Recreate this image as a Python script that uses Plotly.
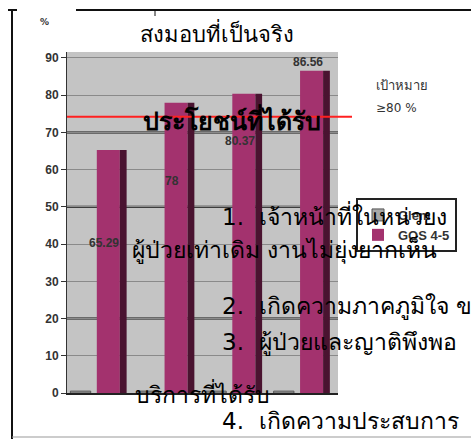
import plotly.graph_objects as go

categories = ["1", "2", "3", "4"]
glem_values = [0.5, 0.5, 0.5, 0.5]
gos45_values = [65.29, 78, 80.37, 86.56]
series_names = ["Glem", "GOS 4-5"]
y_ticks = [0, 10, 20, 30, 40, 50, 60, 70, 80, 90]
target_value = 74.2
dark_grid = [70, 50, 20]
label_y = [40.3, 57.0, 67.8, 89.0]

W, H = 471, 439
L, R, T, B = 67, 338, 52, 393

def px(x):
    return (x - L) / (R - L)

def py(y):
    return (B - y) / (B - T)

xs = list(range(len(categories)))

fig = go.Figure()
fig.add_trace(go.Bar(x=xs, y=glem_values, name=series_names[0], offset=-0.45, width=0.3,
                     marker=dict(color="#A8A8A8", line=dict(color="#555555", width=1)), showlegend=True))
fig.add_trace(go.Bar(x=xs, y=gos45_values, name=series_names[1], offset=-0.06, width=0.34,
                     marker=dict(color="#A3326E", line=dict(width=0)), showlegend=True))
fig.add_trace(go.Bar(x=xs, y=gos45_values, name=series_names[1], offset=0.28, width=0.1,
                     marker=dict(color="#4A1330", line=dict(width=0)), showlegend=False,
                     hoverinfo="skip"))

shapes = []
for g in dark_grid:
    shapes.append(dict(type="line", xref="paper", yref="y", x0=0, x1=1, y0=g, y1=g,
                       line=dict(color="#111111", width=2), layer="below"))
shapes.append(dict(type="line", xref="paper", yref="y", x0=0, x1=px(352), y0=target_value,
                   y1=target_value, line=dict(color="#FF2020", width=2)))
shapes.append(dict(type="line", xref="paper", yref="paper", x0=px(12), x1=px(12), y0=py(439), y1=py(10),
                   line=dict(color="#111111", width=2)))
shapes.append(dict(type="line", xref="paper", yref="paper", x0=px(8), x1=px(17), y0=py(10), y1=py(10),
                   line=dict(color="#111111", width=2)))
shapes.append(dict(type="line", xref="paper", yref="paper", x0=px(76), x1=px(471), y0=py(10), y1=py(10),
                   line=dict(color="#111111", width=2)))
shapes.append(dict(type="line", xref="paper", yref="paper", x0=px(155), x1=px(155), y0=py(10), y1=py(16),
                   line=dict(color="#111111", width=1)))
shapes.append(dict(type="line", xref="paper", yref="paper", x0=px(12), x1=px(471), y0=py(437), y1=py(437),
                   line=dict(color="#999999", width=1)))

ann = []
for i, v in enumerate(gos45_values):
    ann.append(dict(x=xs[i] + 0.05, y=label_y[i], xref="x", yref="y", text=f"<b>{v:g}</b>", showarrow=False,
                    font=dict(family="Liberation Sans, Arial", size=12, color="#333333"),
                    xanchor="center", yanchor="middle"))

thai_font = "Tahoma, DejaVu Sans, Noto Sans, sans-serif"

def txt(x, y, s, size=21, bold=False, anchor="left", color="#000000"):
    ann.append(dict(x=px(x), y=py(y), xref="paper", yref="paper",
                    text=("<b>%s</b>" % s) if bold else s, showarrow=False,
                    xanchor=anchor, yanchor="middle",
                    font=dict(family=thai_font, size=size, color=color)))

txt(38, 22, "<b>%</b>", size=9, color="#333333")
txt(374, 85, "เป้าหมาย", size=13, color="#333333")
txt(374, 108, "≥80 %", size=12, color="#333333")
txt(217, 33, "สงมอบที่เป็นจริง", size=22, anchor="center")
txt(232, 120, "ประโยชน์ที่ได้รับ", size=25, bold=True, anchor="center")
txt(220, 215, "1.  เจ้าหน้าที่ในหน่วยง", size=23)
txt(130, 250, "ผู้ป่วยเท่าเดิม งานไม่ยุ่งยากเห็น", size=23)
txt(220, 306, "2.  เกิดความภาคภูมิใจ ข", size=23)
txt(220, 342, "3.  ผู้ป่วยและญาติพึงพอ", size=23)
txt(133, 393, "บริการที่ได้รับ", size=23)
txt(220, 421, "4.  เกิดความประสบการ", size=23)

fig.update_layout(
    width=W, height=H,
    margin=dict(l=L, r=W - R, t=T, b=H - B, pad=0),
    paper_bgcolor="white",
    plot_bgcolor="#C4C4C4",
    barmode="overlay",
    shapes=shapes,
    annotations=ann,
    legend=dict(x=px(356), y=py(198), xanchor="left", yanchor="top",
                bgcolor="white", bordercolor="#222222", borderwidth=2,
                font=dict(family="Liberation Sans, Arial", size=13, color="#333333", weight="bold"),
                itemwidth=30, tracegroupgap=4),
    xaxis=dict(range=[-0.5, 3.5], showticklabels=False, showgrid=False, zeroline=False,
               showline=True, linecolor="#222222", linewidth=2, ticks=""),
    yaxis=dict(range=[0, 91.6], tickvals=y_ticks, showgrid=True, gridcolor="#8A8A8A", gridwidth=1,
               zeroline=False, showline=True, linecolor="#333333", linewidth=1,
               ticks="outside", ticklen=5, tickcolor="#333333",
               tickfont=dict(family="Liberation Sans, Arial", size=12, color="#333333", weight="bold")),
    showlegend=True,
)

fig.write_html("out.html")
